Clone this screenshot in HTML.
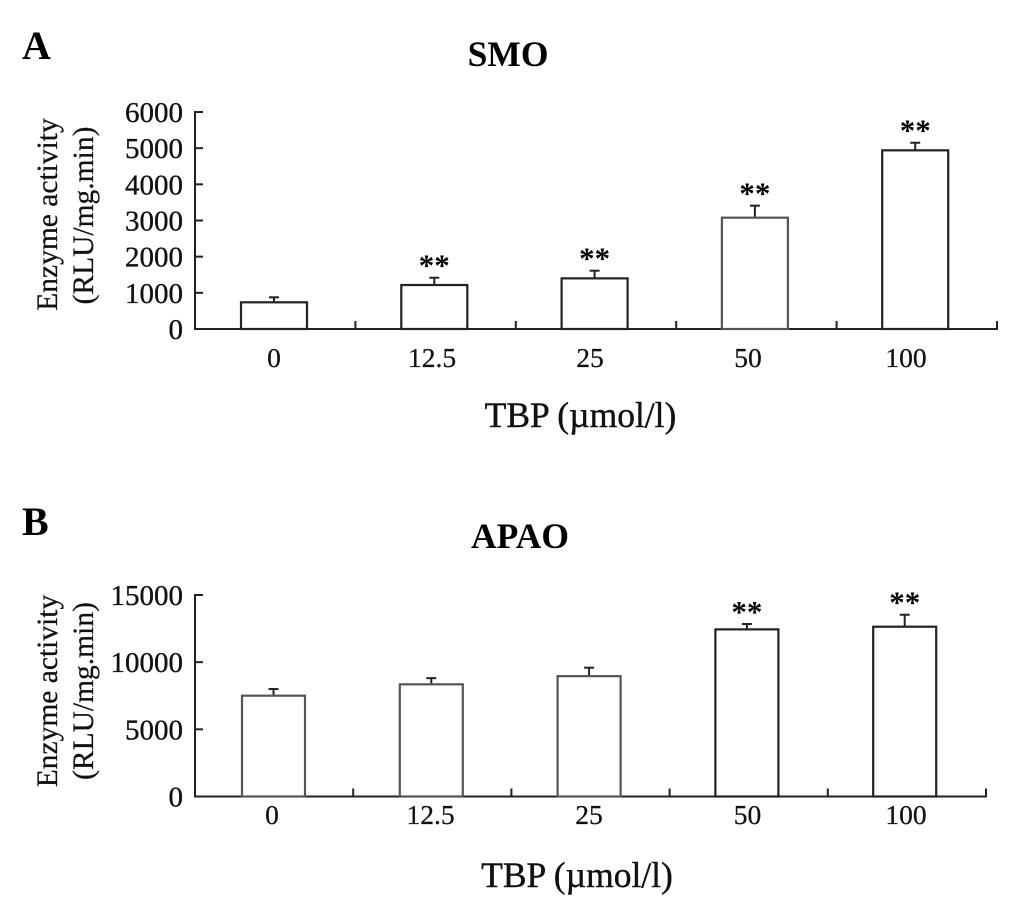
<!DOCTYPE html>
<html lang="en">
<head>
<meta charset="utf-8">
<title>SMO and APAO enzyme activity</title>
<style>
html,body{margin:0;padding:0;background:#fff;}
svg{display:block;font-family:"Liberation Serif",serif;fill:#111;}
.tick-y{font-size:29px;text-anchor:end;stroke:#111;stroke-width:.35px;}
.tick-x{font-size:27.5px;text-anchor:middle;stroke:#111;stroke-width:.25px;}
.y-title{font-size:29.5px;text-anchor:middle;stroke:#111;stroke-width:.25px;}
.x-title{font-size:35.5px;text-anchor:middle;stroke:#111;stroke-width:.4px;}
.title{font-size:35.5px;font-weight:bold;text-anchor:middle;fill:#000;}
.panel{font-size:40px;font-weight:bold;fill:#000;}
.star{font-size:31px;font-weight:bold;text-anchor:middle;fill:#000;}
.line{stroke:#222;stroke-width:2;fill:none;}
.bar{stroke:#222;stroke-width:2.2;fill:#fff;}
.grey-bar{stroke:#555;}
.err{stroke:#222;stroke-width:2;fill:none;}
</style>
</head>
<body>
<svg id="figure" width="1033" height="902" viewBox="0 0 1033 902" xmlns="http://www.w3.org/2000/svg">
  <rect x="0" y="0" width="1033" height="902" fill="#fff"/>
  <text class="panel" x="22" y="59">A</text>
  <text class="panel" x="22" y="535">B</text>
  <text class="title" x="508" y="66">SMO</text>
  <text class="title" x="520" y="548">APAO</text>
  <text class="y-title" transform="translate(57,214.5) rotate(-90)">Enzyme activity</text>
  <text class="y-title" transform="translate(93,215.5) rotate(-90)">(RLU/mg.min)</text>
  <text class="y-title" transform="translate(57,691) rotate(-90)">Enzyme activity</text>
  <text class="y-title" transform="translate(93,691) rotate(-90)">(RLU/mg.min)</text>
  <text class="x-title" x="580.5" y="427">TBP (µmol/l)</text>
  <text class="x-title" x="577" y="887">TBP (µmol/l)</text>
  <g id="chart-a"></g>
  <g id="chart-b"></g>
</svg>
<script>
const categories = ['0', '12.5', '25', '50', '100'];

const smoTicks = [0, 1000, 2000, 3000, 4000, 5000, 6000];
const smoMeans = [738, 1216, 1400, 3078, 4940];
const smoErrorTops = [876, 1418, 1612, 3410, 5150];
const smoSignificant = [false, true, true, true, true];

const apaoTicks = [0, 5000, 10000, 15000];
const apaoMeans = [7505, 8350, 8960, 12440, 12640];
const apaoErrorTops = [8000, 8810, 9590, 12840, 13530];
const apaoSignificant = [false, false, false, true, true];

const NS = 'http://www.w3.org/2000/svg';

function make(parent, tag, cls, attrs, text) {
  const el = document.createElementNS(NS, tag);
  if (cls) el.setAttribute('class', cls);
  Object.keys(attrs).forEach(function (k) { el.setAttribute(k, attrs[k]); });
  if (text !== undefined) el.textContent = text;
  parent.appendChild(el);
  return el;
}

function drawChart(rootId, prefix, frame, ticks, means, errorTops, significant) {
  const root = document.getElementById(rootId);
  const yMax = ticks[ticks.length - 1];
  const y = function (v) { return frame.bottom - (v / yMax) * (frame.bottom - frame.top); };
  const band = (frame.right - frame.left) / categories.length;
  const barX = function (i) { return frame.left + frame.barOffset + i * frame.barStep; };
  const labelX = function (i) { return frame.labelStart + i * frame.labelStep; };

  const yAxis = make(root, 'line', 'line', { x1: frame.left, x2: frame.left, y1: y(yMax) - 1, y2: y(0) + 1 });
  
  

  const xAxis = make(root, 'line', 'line', { x1: frame.left - 1, x2: frame.right + 1, y1: y(0), y2: y(0) });
  
  

  ticks.forEach(function (t) {
    const mark = make(root, 'line', 'line', { x1: frame.left, x2: frame.left + 8, y1: y(t), y2: y(t) });
    
    
    const label = make(root, 'text', 'tick-y', { x: frame.left - 12, y: y(t) + 10 }, String(t));
    
    
  });

  categories.forEach(function (c, i) {
    const tx = frame.left + (i + 1) * band;
    const mark = make(root, 'line', 'line', { x1: tx, x2: tx, y1: y(0) - 8, y2: y(0) });
    
    

    const label = make(root, 'text', 'tick-x', { x: labelX(i), y: frame.labelY }, c);
    
    

    const cx = barX(i);
    const errorStem = make(root, 'line', 'err', { x1: cx, x2: cx, y1: y(means[i]), y2: y(errorTops[i]) });
    
    
    const errorCap = make(root, 'line', 'err', { x1: cx - 5, x2: cx + 5, y1: y(errorTops[i]), y2: y(errorTops[i]) });
    
    

    const greyBar = frame.greyBars.indexOf(i) !== -1;
    const bar = make(root, 'rect', greyBar ? 'bar grey-bar' : 'bar', {
      x: cx - frame.barWidth / 2,
      y: y(means[i]),
      width: frame.barWidth,
      height: y(0) - y(means[i])
    });
    
    

    if (significant[i]) {
      const star = make(root, 'text', 'star', { x: cx, y: y(errorTops[i]) - 2 }, '**');
      
      
    }
  });
}

drawChart('chart-a', 'smo',
  { left: 195, right: 997, top: 112, bottom: 329, barOffset: 79, barStep: 160.3, barWidth: 66, labelStart: 274, labelStep: 158, labelY: 367, greyBars: [3] },
  smoTicks, smoMeans, smoErrorTops, smoSignificant);

drawChart('chart-b', 'apao',
  { left: 195, right: 986, top: 595, bottom: 796.5, barOffset: 78.5, barStep: 157.8, barWidth: 63, labelStart: 272, labelStep: 158.5, labelY: 824, greyBars: [0, 1, 2] },
  apaoTicks, apaoMeans, apaoErrorTops, apaoSignificant);
</script>
</body>
</html>
